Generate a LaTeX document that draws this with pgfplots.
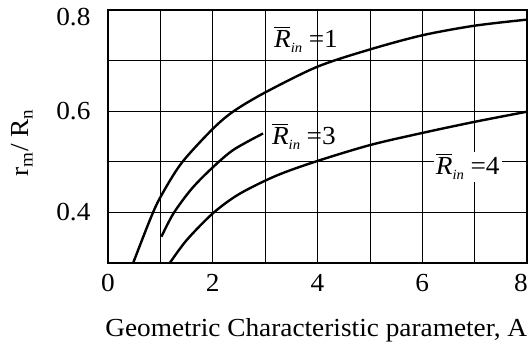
\documentclass[border=0pt]{standalone}
\usepackage{fontspec}
\setmainfont{Liberation Serif}[FakeStretch=1.05]
\usepackage{pgfplots}
\pgfplotsset{compat=1.18}

\newcommand{\bigfont}{\fontsize{26}{31}\selectfont}
% barred italic R with a small italic subscript "in"
\newcommand{\Rin}[1]{\leavevmode
  \vbox{\hrule height 1.2pt width 0.62em\kern 2.5pt\hbox{\itshape R}}%
  \raisebox{-5pt}{\fontsize{14}{14}\selectfont\itshape in}\hspace{0.25em}=#1}

\begin{document}
\begin{tikzpicture}
\begin{axis}[
  scale only axis,
  width=419pt, height=253pt,
  at={(0pt,0pt)}, anchor=south west,
  xmin=0, xmax=8, ymin=0.3, ymax=0.8,
  xtick={0,2,4,6},
  minor xtick={1,3,5,7},
  extra x ticks={8},
  extra x tick style={xticklabel style={xshift=-6pt}},
  ytick={0.4,0.6},
  minor ytick={0.5,0.7},
  extra y ticks={0.8},
  extra y tick style={yticklabel style={yshift=-7pt}},
  major tick length=0pt, minor tick length=0pt,
  grid=both,
  major grid style={black, line width=1.3pt},
  minor grid style={black, line width=1.3pt},
  x grid style={line width=0.6pt},
  axis line style={black, line width=1.8pt},
  /pgf/number format/assume math mode=true,
  /pgf/number format/fixed,
  /pgf/number format/precision=1,
  yticklabel style={/pgf/number format/fixed zerofill},
  tick label style={font=\bigfont},
  xticklabel style={yshift=-8pt},
  yticklabel style={xshift=-14pt},
  xlabel={Geometric Characteristic parameter, A},
  ylabel={r\textsubscript{m}/ R\textsubscript{n}},
  label style={font=\bigfont},
  xlabel style={at={(axis description cs:0.497,-0.265)}, anchor=center},
  ylabel style={at={(axis description cs:-0.205,0.475)}, anchor=center},
  clip=true,
]
% R_in = 1
\addplot[black, line width=2.4pt, smooth] coordinates {
  (0.48,0.300) (0.80,0.385) (1.00,0.430) (1.40,0.497) (2.00,0.565)
  (2.40,0.600) (3.00,0.637) (4.00,0.688) (5.00,0.722)
  (6.00,0.750) (7.00,0.769) (8.00,0.781)
};
% R_in = 3
\addplot[black, line width=2.4pt, smooth] coordinates {
  (1.02,0.352) (1.25,0.398) (1.60,0.447) (2.00,0.489) (2.40,0.524) (2.96,0.556)
};
% R_in = 4
\addplot[black, line width=2.4pt, smooth] coordinates {
  (1.18,0.300) (1.50,0.345) (2.00,0.398) (2.50,0.436) (3.20,0.472)
  (3.95,0.500) (5.00,0.533) (6.00,0.557) (7.00,0.579) (8.00,0.599)
};
\node[font=\bigfont, inner sep=1pt] at (axis cs:3.78,0.741) {\Rin{1}};
\node[font=\bigfont, inner sep=1pt] at (axis cs:3.74,0.549) {\Rin{3}};
\node[font=\bigfont, fill=white, inner sep=2pt] at (axis cs:6.87,0.490) {\Rin{4}};
\end{axis}
\pgfresetboundingbox
\path (-108pt,-86pt) rectangle (420pt,263pt);
\end{tikzpicture}
\end{document}
